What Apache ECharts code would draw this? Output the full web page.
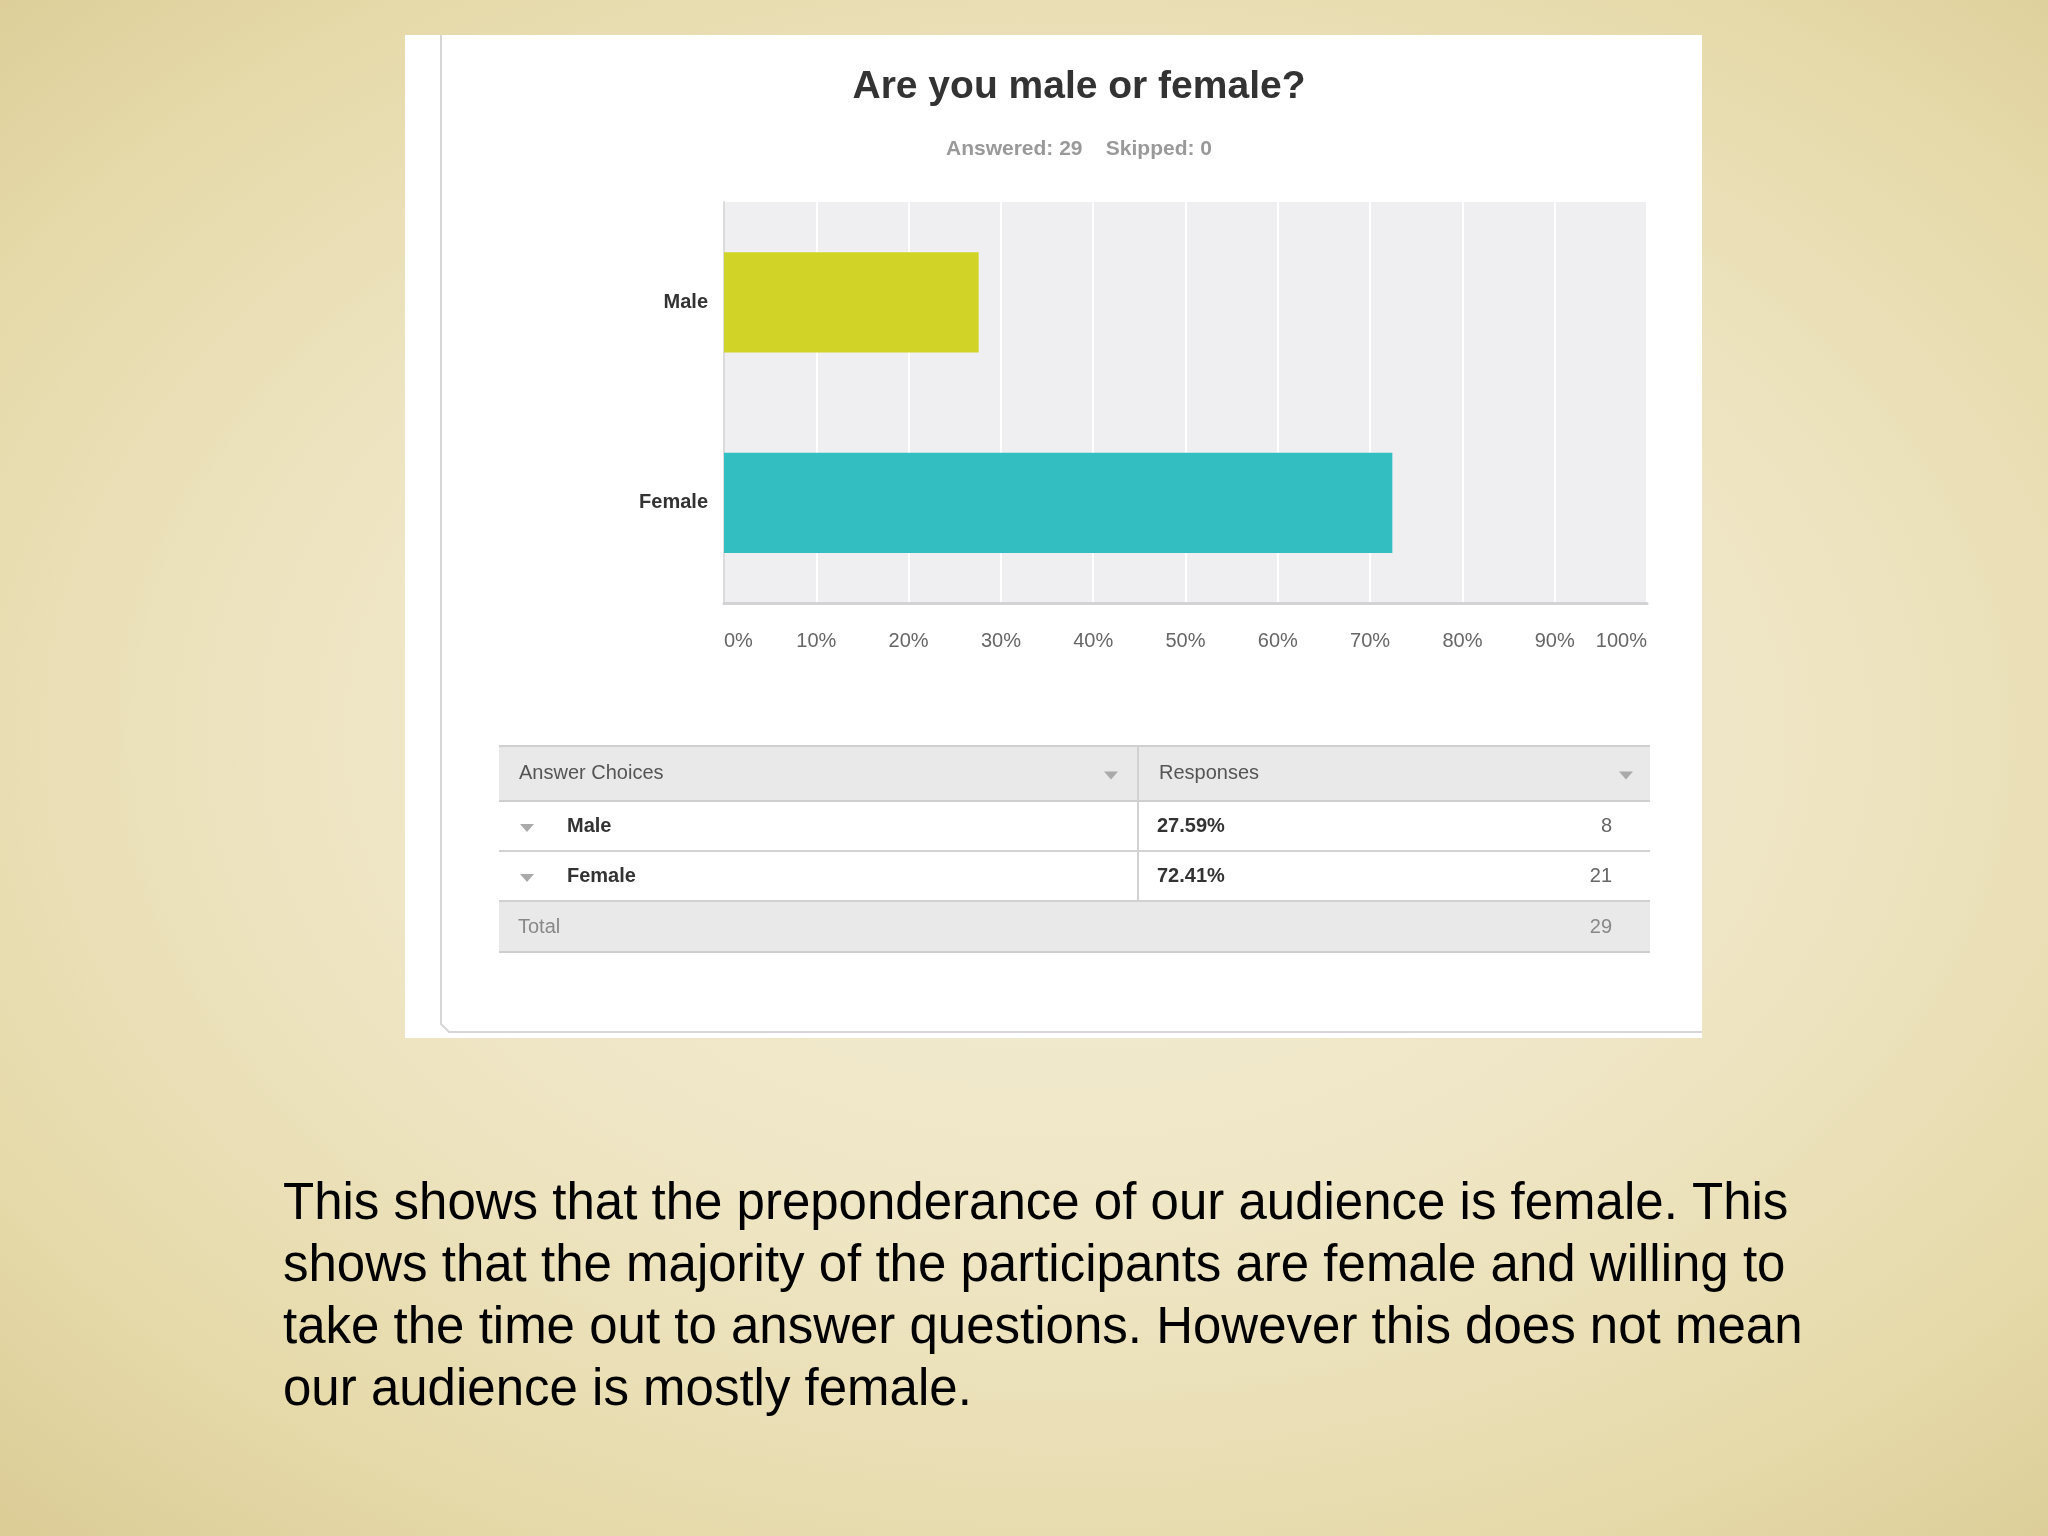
<!DOCTYPE html>
<html>
<head>
<meta charset="utf-8">
<script src="https://cdn.jsdelivr.net/npm/echarts@6/dist/echarts.min.js"></script>
<style>
html,body{margin:0;padding:0;}
body{width:2048px;height:1536px;overflow:hidden;
background: radial-gradient(ellipse 75% 70% at 52% 48%, #f4edd4 0%, #efe6c6 45%, #e6daaa 80%, #dccd97 100%);}
#chart{width:2048px;height:1536px;}
</style>
</head>
<body>
<div id="chart"></div>
<script>
// ---- data ----
const titleText = 'Are you male or female?';
const answered = 29;
const skipped = 0;
const categories = ['Male', 'Female'];
const percents = [27.59, 72.41];
const counts = [8, 21];
const total = 29;
const tableHeaders = ['Answer Choices', 'Responses'];
const barColors = ['#d1d326', '#33bfc1'];
const xTicks = [0, 10, 20, 30, 40, 50, 60, 70, 80, 90, 100];
const caption = [
  'This shows that the preponderance of our audience is female. This',
  'shows that the majority of the participants are female and willing to',
  'take the time out to answer questions. However this does not mean',
  'our audience is mostly female.'
];

const FONT = '"Liberation Sans", Arial, Helvetica, sans-serif';
const chart = echarts.init(document.getElementById('chart'), null, {renderer: 'canvas'});

// table layout
const T = {x: 499, y: 746, w: 1151, colX: 1138, headH: 55, rowH: 50};
const g = [];
// white panel
g.push({type: 'rect', z: -5, shape: {x: 405, y: 35, width: 1297, height: 1003}, style: {fill: '#ffffff'}});
g.push({type: 'polyline', z: -4, shape: {points: [[441, 35], [441, 1024], [449, 1032], [1702, 1032]]}, style: {stroke: '#d6d6d6', lineWidth: 2, fill: null}});

// table header
g.push({type: 'rect', z: 1, shape: {x: T.x, y: T.y, width: T.w, height: T.headH}, style: {fill: '#e9e9e9'}});
g.push({type: 'line', z: 2, shape: {x1: T.x, y1: T.y, x2: T.x + T.w, y2: T.y}, style: {stroke: '#cfcfcf', lineWidth: 2}});
g.push({type: 'line', z: 2, shape: {x1: T.x, y1: T.y + T.headH, x2: T.x + T.w, y2: T.y + T.headH}, style: {stroke: '#cfcfcf', lineWidth: 2}});
g.push({type: 'text', z: 3, x: T.x + 20, y: T.y + T.headH / 2, style: {text: tableHeaders[0], font: '20px ' + FONT, fill: '#555', verticalAlign: 'middle'}});
g.push({type: 'text', z: 3, x: T.colX + 21, y: T.y + T.headH / 2, style: {text: tableHeaders[1], font: '20px ' + FONT, fill: '#555', verticalAlign: 'middle'}});
function tri(cx, cy) {
  return {type: 'polygon', z: 3, shape: {points: [[cx - 7, cy - 4], [cx + 7, cy - 4], [cx, cy + 4]]}, style: {fill: '#aaaaaa'}};
}
g.push(tri(1111, T.y + T.headH / 2 + 2));
g.push(tri(1626, T.y + T.headH / 2 + 2));

let ry = T.y + T.headH;
categories.forEach(function (c, i) {
  const cy = ry + T.rowH / 2;
  g.push(tri(527, cy + 2));
  g.push({type: 'text', z: 3, x: 567, y: cy, style: {text: c, font: 'bold 20px ' + FONT, fill: '#333', verticalAlign: 'middle'}});
  g.push({type: 'text', z: 3, x: 1157, y: cy, style: {text: percents[i].toFixed(2) + '%', font: 'bold 20px ' + FONT, fill: '#333', verticalAlign: 'middle'}});
  g.push({type: 'text', z: 3, x: 1612, y: cy, style: {text: String(counts[i]), font: '20px ' + FONT, fill: '#666', align: 'right', verticalAlign: 'middle'}});
  g.push({type: 'line', z: 2, shape: {x1: T.x, y1: ry + T.rowH, x2: T.x + T.w, y2: ry + T.rowH}, style: {stroke: '#d2d2d2', lineWidth: 2}});
  ry += T.rowH;
});
g.push({type: 'line', z: 2, shape: {x1: T.colX, y1: T.y, x2: T.colX, y2: ry}, style: {stroke: '#d2d2d2', lineWidth: 2}});
// total row
g.push({type: 'rect', z: 1, shape: {x: T.x, y: ry + 1, width: T.w, height: T.rowH}, style: {fill: '#e9e9e9'}});
g.push({type: 'line', z: 2, shape: {x1: T.x, y1: ry + T.rowH + 1, x2: T.x + T.w, y2: ry + T.rowH + 1}, style: {stroke: '#cfcfcf', lineWidth: 2}});
g.push({type: 'text', z: 3, x: T.x + 19, y: ry + T.rowH / 2 + 1, style: {text: 'Total', font: '20px ' + FONT, fill: '#888', verticalAlign: 'middle'}});
g.push({type: 'text', z: 3, x: 1612, y: ry + T.rowH / 2 + 1, style: {text: String(total), font: '20px ' + FONT, fill: '#888', align: 'right', verticalAlign: 'middle'}});

// caption
g.push({type: 'text', z: 3, x: 283, y: 1174, style: {text: caption.join('\n'), font: '51px ' + FONT, fill: '#000', lineHeight: 62}});

chart.setOption({
  backgroundColor: 'transparent',
  animation: false,
  title: {
    text: titleText,
    subtext: 'Answered: ' + answered + '    Skipped: ' + skipped,
    left: 1074, top: 63, textAlign: 'center', itemGap: 32,
    textStyle: {fontFamily: FONT, fontSize: 39, fontWeight: 'bold', color: '#333'},
    subtextStyle: {fontFamily: FONT, fontSize: 21, fontWeight: 'bold', color: '#999'}
  },
  grid: {left: 724, top: 202, width: 923, height: 401, show: true, backgroundColor: '#efeff1', borderWidth: 0, containLabel: false},
  xAxis: {
    type: 'value', min: 0, max: 100, interval: 10,
    axisLine: {show: true, lineStyle: {color: '#d3d3d5', width: 3}},
    axisTick: {show: false},
    splitLine: {show: true, lineStyle: {color: '#ffffff', width: 2}},
    axisLabel: {formatter: function (v) { return xTicks.indexOf(v) >= 0 ? v + '%' : ''; }, fontFamily: FONT, fontSize: 20, color: '#666', margin: 28, alignMinLabel: 'left', alignMaxLabel: 'right'}
  },
  yAxis: {
    type: 'category', data: categories, inverse: true,
    axisLine: {show: true, lineStyle: {color: '#dcdcdc', width: 2}},
    axisTick: {show: false},
    axisLabel: {fontFamily: FONT, fontSize: 20, fontWeight: 'bold', color: '#333', margin: 16}
  },
  series: [{
    type: 'bar',
    data: percents.map(function (v, i) { return {value: v, itemStyle: {color: barColors[i]}}; }),
    barWidth: '50%',
    z: 3
  }],
  graphic: g
});
</script>
</body>
</html>
